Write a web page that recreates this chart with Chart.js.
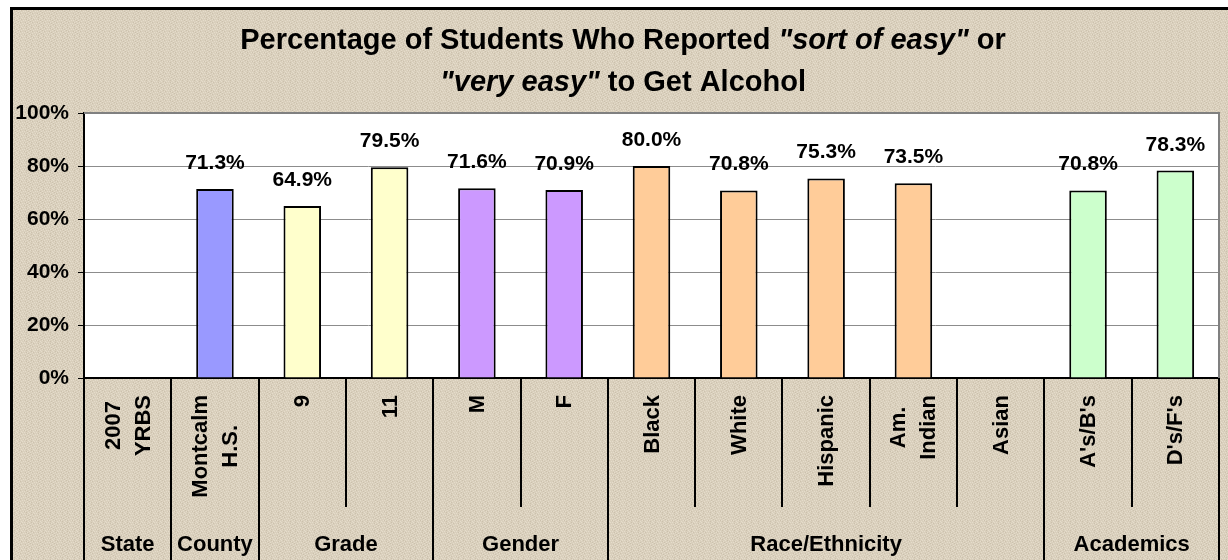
<!DOCTYPE html>
<html>
<head>
<meta charset="utf-8">
<script src="https://cdn.jsdelivr.net/npm/chart.js@4.4.0/dist/chart.umd.min.js"></script>
<style>
  html, body { margin: 0; padding: 0; background: #fff; }
  #wrap { width: 1228px; height: 560px; }
</style>
</head>
<body>
<div id="wrap"><canvas id="chart"></canvas></div>
<script>
// Data
const categories = [['2007', 'YRBS'], ['Montcalm', 'H.S.'], ['9'], ['11'], ['M'], ['F'],
  ['Black'], ['White'], ['Hispanic'], ['Am.', 'Indian'], ['Asian'], ["A's/B's"], ["D's/F's"]];
const values = [null, 71.3, 64.9, 79.5, 71.6, 70.9, 80.0, 70.8, 75.3, 73.5, null, 70.8, 78.3];
const groups = ['State', 'County', 'Grade', 'Gender', 'Race/Ethnicity', 'Academics'];
const groupSizes = [1, 1, 2, 2, 5, 2];
const groupColors = ['#9999FF', '#9999FF', '#FFFFCC', '#CC99FF', '#FFCC99', '#CCFFCC'];
const yTicks = [0, 20, 40, 60, 80, 100];
const titleLines = [
  [['Percentage of Students Who Reported ', false], ['"sort of easy"', true], [' or', false]],
  [['"very easy"', true], [' to Get Alcohol', false]]
];

const FONT = '"Liberation Sans", Arial, sans-serif';

// one colour per bar, taken from its group
const barColors = [];
groupSizes.forEach((n, g) => { for (let k = 0; k < n; k++) barColors.push(groupColors[g]); });

function makeTexture(ctx) {
  const c = document.createElement('canvas');
  c.width = 12; c.height = 9;
  const t = c.getContext('2d');
  t.fillStyle = '#D9CFBC';
  t.fillRect(0, 0, 12, 9);
  for (let y = 0; y < 9; y++) {
    for (let x = 0; x < 12; x++) {
      if ((x + 2 * y) % 5 === 0) { t.fillStyle = '#E5DCCB'; t.fillRect(x, y, 1, 1); }
      else if ((3 * x + y) % 7 === 0) { t.fillStyle = '#CCC1AD'; t.fillRect(x, y, 1, 1); }
    }
  }
  return ctx.createPattern(c, 'repeat');
}

const decor = {
  id: 'decor',
  beforeDraw(chart) {
    const { ctx, chartArea: a, width, height } = chart;
    ctx.save();
    ctx.fillStyle = '#fff';
    ctx.fillRect(0, 0, width, height);
    ctx.fillStyle = makeTexture(ctx);
    ctx.fillRect(10, 7, width - 10, height - 7);
    ctx.fillStyle = '#fff';
    ctx.fillRect(a.left, a.top, a.right - a.left, a.bottom - a.top);
    ctx.strokeStyle = '#000';
    ctx.lineWidth = 3;
    ctx.beginPath();
    ctx.moveTo(11.5, height);
    ctx.lineTo(11.5, 8.5);
    ctx.lineTo(width, 8.5);
    ctx.stroke();
    ctx.restore();
  },
  afterDraw(chart) {
    const { ctx, chartArea: a, height } = chart;
    const xs = chart.scales.x;
    const half = (xs.getPixelForValue(1) - xs.getPixelForValue(0)) / 2;
    const edge = i => xs.getPixelForValue(i) - half;
    ctx.save();

    // plot area top / right border
    ctx.strokeStyle = '#808080';
    ctx.lineWidth = 2;
    ctx.beginPath();
    ctx.moveTo(a.left, a.top);
    ctx.lineTo(a.right, a.top);
    ctx.lineTo(a.right, a.bottom);
    ctx.stroke();

    // category separators (short) and group separators (long)
    const groupEdges = [0];
    groupSizes.forEach(n => groupEdges.push(groupEdges[groupEdges.length - 1] + n));
    ctx.strokeStyle = '#000';
    ctx.lineWidth = 2;
    for (let i = 0; i <= categories.length; i++) {
      const x = Math.round(edge(i));
      const long = groupEdges.includes(i);
      ctx.beginPath();
      ctx.moveTo(x, a.bottom);
      ctx.lineTo(x, long ? height : 507);
      ctx.stroke();
    }

    // category labels, rotated
    ctx.fillStyle = '#000';
    ctx.font = 'bold 22px ' + FONT;
    ctx.textBaseline = 'middle';
    ctx.textAlign = 'center';
    categories.forEach((lines, i) => {
      const cx = xs.getPixelForValue(i);
      const len = Math.max(...lines.map(s => ctx.measureText(s).width));
      const cy = 395 + len / 2;
      lines.forEach((s, k) => {
        const off = (k - (lines.length - 1) / 2) * 30;
        ctx.save();
        ctx.translate(cx + off, cy);
        ctx.rotate(-Math.PI / 2);
        ctx.fillText(s, 0, 1);
        ctx.restore();
      });
    });

    // group labels
    ctx.textBaseline = 'alphabetic';
    groups.forEach((g, k) => {
      const x = (edge(groupEdges[k]) + edge(groupEdges[k + 1])) / 2;
      ctx.fillText(g, x, 551);
    });

    // value labels above bars
    ctx.font = 'bold 21px ' + FONT;
    const meta = chart.getDatasetMeta(0);
    meta.data.forEach((bar, i) => {
      if (values[i] == null) return;
      ctx.fillText(values[i].toFixed(1) + '%', bar.x, bar.y - 20);
    });

    // title with italic parts
    const cx = 623;
    titleLines.forEach((parts, li) => {
      const fonts = parts.map(p => (p[1] ? 'italic bold 29px ' : 'bold 29px ') + FONT);
      let total = 0;
      const widths = parts.map((p, k) => { ctx.font = fonts[k]; const w = ctx.measureText(p[0]).width; total += w; return w; });
      let x = cx - total / 2;
      ctx.textAlign = 'left';
      parts.forEach((p, k) => {
        ctx.font = fonts[k];
        ctx.fillText(p[0], x, li === 0 ? 49 : 91);
        x += widths[k];
      });
    });
    ctx.restore();
  }
};

new Chart(document.getElementById('chart'), {
  type: 'bar',
  data: {
    labels: categories.map(c => c.join(' ')),
    datasets: [{
      data: values,
      backgroundColor: barColors,
      borderColor: '#000',
      borderWidth: 2,
      categoryPercentage: 1,
      barPercentage: 0.43
    }]
  },
  options: {
    responsive: true,
    maintainAspectRatio: false,
    animation: false,
    layout: { padding: { left: 10, right: 9, top: 113, bottom: 0 } },
    plugins: {
      legend: { display: false },
      title: { display: false },
      tooltip: { enabled: false }
    },
    scales: {
      x: {
        ticks: { display: false },
        grid: { display: false },
        border: { display: true, color: '#000', width: 2 },
        afterFit: s => { s.height = 182; }
      },
      y: {
        min: 0,
        max: 100,
        afterBuildTicks: s => { s.ticks = yTicks.map(v => ({ value: v })); },
        ticks: {
          color: '#000',
          padding: 9,
          font: { family: FONT, size: 21, weight: 'bold' },
          callback: v => v + '%'
        },
        grid: {
          color: c => (c.tick.value === 0 || c.tick.value === 100) ? 'rgba(0,0,0,0)' : '#8C8C8C',
          tickColor: '#000',
          tickLength: 6,
          lineWidth: 1
        },
        border: { display: true, color: '#000', width: 2 },
        afterFit: s => { s.width = 74; }
      }
    }
  },
  plugins: [decor]
});
</script>
</body>
</html>
